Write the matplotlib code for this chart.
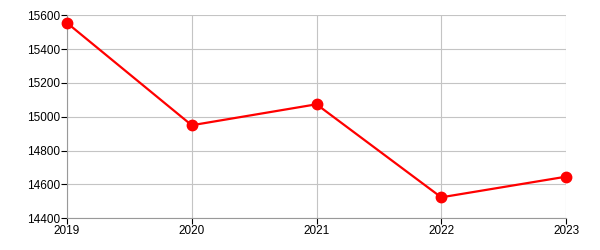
import matplotlib
matplotlib.use("Agg")
import matplotlib.pyplot as plt

years = [2019, 2020, 2021, 2022, 2023]
values = [15555, 14950, 15074, 14524, 14646]
yticks = [14400, 14600, 14800, 15000, 15200, 15400, 15600]

plt.rcParams['font.family'] = ['Liberation Sans', 'DejaVu Sans']

fig = plt.figure(figsize=(6, 2.5), dpi=100)
ax = fig.add_axes([67/600, 1-218.3/250, (566-67)/600, (218.3-15.3)/250])

ax.plot(years, values, color='#ff0000', linewidth=1.6, marker='o', markersize=7.5, zorder=3, clip_on=False)

ax.set_xlim(years[0], years[-1])
ax.set_ylim(yticks[0], yticks[-1])
ax.set_xticks(years)
ax.set_xticklabels([str(y) for y in years])
ax.set_yticks(yticks)
ax.grid(True, color='#c4c4c4', linewidth=0.8)
ax.set_axisbelow(True)
for s in ['top', 'right']:
    ax.spines[s].set_visible(False)
for s in ['left', 'bottom']:
    ax.spines[s].set_color('#999999')
    ax.spines[s].set_linewidth(0.8)
ax.tick_params(axis='both', colors='black', labelcolor='black', labelsize=8.5, length=4, width=0.8, pad=1)

fig.savefig('out.png', dpi=100)
